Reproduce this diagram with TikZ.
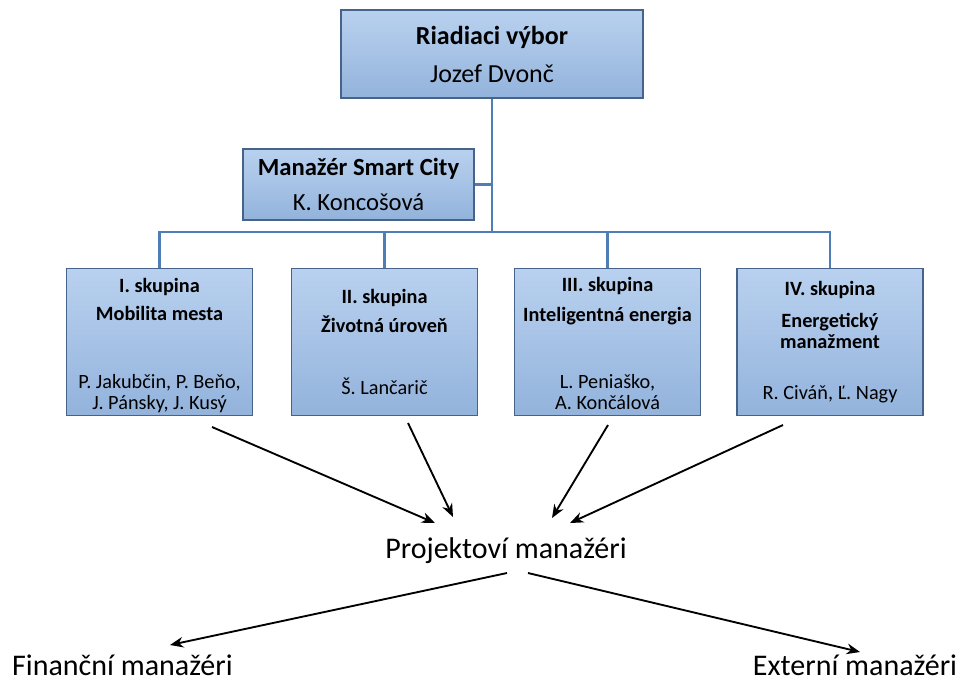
\documentclass[tikz,border=0pt]{standalone}
\usepackage{fontspec}
\setmainfont{Carlito}
\usetikzlibrary{arrows.meta}

\definecolor{boxtop}{HTML}{B9D1EF}
\definecolor{boxbot}{HTML}{93B3DC}
\definecolor{boxline}{HTML}{46638A}
\definecolor{linkblue}{HTML}{4F7DB5}

\tikzset{
	orgbox/.style={draw=boxline, line width=0.8pt, top color=boxtop, bottom color=boxbot, inner sep=0pt, align=center, text=black},
	groupbox/.style={orgbox, minimum width=139.5pt, minimum height=110.25pt, font=\fontsize{15.2}{16.2}\selectfont},
	bigtext/.style={anchor=base, inner sep=0pt, font=\fontsize{22.5}{27}\selectfont},
	link/.style={draw=linkblue, line width=1.8pt},
	flow/.style={-{Stealth[length=10pt,width=8pt]}, line width=1.4pt, black}
}

\begin{document}
\begin{tikzpicture}[x=0.75pt,y=-0.75pt]
	\useasboundingbox (0,0) rectangle (962,682);

	\node[orgbox, minimum width=226.5pt, minimum height=66pt, font=\fontsize{19.5}{22}\selectfont] (vybor) at (492, 54) {\textbf{Riadiaci výbor}\\[6.5pt]Jozef Dvonč};
	\node[orgbox, minimum width=173.25pt, minimum height=53.25pt, font=\fontsize{18.5}{22}\selectfont] (manazer) at (358.5, 184.5) {\textbf{Manažér Smart City}\\[4pt]K. Koncošová};

	\node[groupbox] (sk1) at (159.5, 342) {\rule{0pt}{16pt}\textbf{I. skupina}\\[5pt]\textbf{Mobilita mesta}\\[34.5pt]P. Jakubčin, P. Beňo,\\J. Pánsky, J. Kusý};
	\node[groupbox] (sk2) at (384.5, 342) {\textbf{II. skupina}\\[6pt]\textbf{Životná úroveň}\\[30.5pt]Š. Lančarič};
	\node[groupbox] (sk3) at (607.5, 342) {\rule{0pt}{13.5pt}\textbf{III. skupina}\\[6pt]\textbf{Inteligentná energia}\\[34pt]L. Peniaško,\\A. Končálová};
	\node[groupbox] (sk4) at (830, 342) {\textbf{IV. skupina}\\[7.5pt]\textbf{Energetický}\\\textbf{manažment}\\[21.5pt]R. Civáň, Ľ. Nagy};

	\node[bigtext] (projekt) at (506, 558) {Projektoví manažéri};
	\node[bigtext] (financni) at (122.5, 675) {Finanční manažéri};
	\node[bigtext] (externi) at (855, 675) {Externí manažéri};

	% organizacne prepojenia
	\coordinate (zbernica) at (0, 232);
	\draw[link] (vybor.south) -- (vybor.south |- zbernica);
	\draw[link] (manazer.east) -- (manazer.east -| vybor.south);
	\draw[link] (sk1.north) -- (sk1.north |- zbernica) -- (sk4.north |- zbernica) -- (sk4.north);
	\draw[link] (sk2.north) -- (sk2.north |- zbernica);
	\draw[link] (sk3.north) -- (sk3.north |- zbernica);

	% sipky k projektovym manazerom
	\coordinate (s1) at (212, 427);
	\coordinate (s2) at (408, 423);
	\coordinate (s3) at (608, 425);
	\coordinate (s4) at (783, 425);
	\coordinate (p1) at (435, 523);
	\coordinate (p2) at (453, 517);
	\coordinate (p3) at (552, 518);
	\coordinate (p4) at (570, 523);
	\draw[flow] (s1) -- (p1);
	\draw[flow] (s2) -- (p2);
	\draw[flow] (s3) -- (p3);
	\draw[flow] (s4) -- (p4);

	\coordinate (q1) at (507, 573);
	\coordinate (q2) at (528, 573);
	\coordinate (f1) at (170, 645);
	\coordinate (e1) at (860, 652);
	\draw[flow] (q1) -- (f1);
	\draw[flow] (q2) -- (e1);

\end{tikzpicture}
\end{document}
